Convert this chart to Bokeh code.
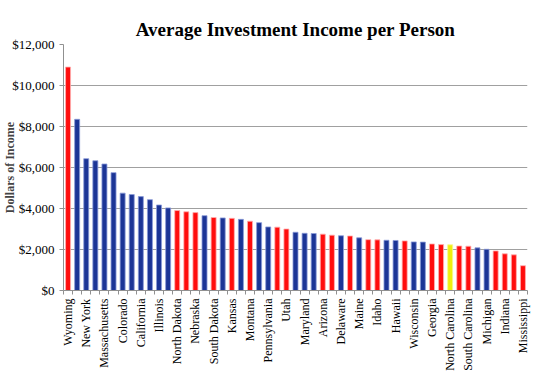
from bokeh.plotting import figure
from bokeh.models import ColumnDataSource, FixedTicker, NumeralTickFormatter, Range1d
from bokeh.embed import file_html
from bokeh.resources import INLINE

states = ["Wyoming", "Connecticut", "New York", "District of Columbia", "Massachusetts",
          "New Jersey", "Colorado", "Florida", "California", "New Hampshire", "Illinois",
          "Nevada", "North Dakota", "Texas", "Nebraska", "Washington", "South Dakota",
          "Minnesota", "Kansas", "Vermont", "Montana", "Rhode Island", "Pennsylvania",
          "Oklahoma", "Utah", "Virginia", "Maryland", "Oregon", "Arizona", "Louisiana",
          "Delaware", "Alaska", "Maine", "Missouri", "Idaho", "Iowa", "Hawaii", "Tennessee",
          "Wisconsin", "New Mexico", "Georgia", "Arkansas", "North Carolina", "Alabama",
          "South Carolina", "Ohio", "Michigan", "Kentucky", "Indiana", "West Virginia",
          "Mississippi"]
income = [10900, 8350, 6430, 6330, 6170, 5750, 4750, 4680, 4580, 4430, 4170, 4030,
          3900, 3840, 3800, 3650, 3560, 3540, 3520, 3470, 3380, 3310, 3100, 3090, 3000,
          2840, 2790, 2780, 2750, 2700, 2670, 2660, 2570, 2480, 2470, 2450, 2440, 2420,
          2370, 2360, 2270, 2240, 2230, 2170, 2160, 2080, 2010, 1930, 1790, 1740, 1210]
party = ["R", "D", "D", "D", "D", "D", "D", "D", "D", "D", "D", "D",
         "R", "R", "R", "D", "R", "D", "R", "D", "R", "D", "D", "R", "R",
         "D", "D", "D", "R", "R", "D", "R", "D", "R", "R", "D", "D", "R",
         "D", "D", "R", "R", "S", "R", "R", "D", "D", "R", "R", "R", "R"]
y_ticks = [0, 2000, 4000, 6000, 8000, 10000, 12000]

palette = {"R": "#ff0d0d", "D": "#1c3596", "S": "#eeee10"}
edge = {"R": "#ffb0b0", "D": "#8a9ad8", "S": "#f8f890"}

pos = list(range(1, len(states) + 1))
src = ColumnDataSource(dict(x=pos, y=income, state=states,
                            color=[palette[k] for k in party],
                            edge=[edge[k] for k in party]))

p = figure(width=540, height=373, output_backend="svg", toolbar_location=None,
           x_range=Range1d(0.5, len(states) + 0.5), y_range=Range1d(0, 12000),
           min_border_left=54, min_border_right=13, min_border_top=44, min_border_bottom=79)

p.title.text = "Average Investment Income per Person"
p.title.align = "center"
p.title.text_font = "Liberation Serif"
p.title.text_font_size = "19px"
p.title.text_font_style = "bold"
p.title.text_color = "#000000"
p.title.offset = 0

p.vbar(x="x", top="y", width=0.55, fill_color="color", line_color="edge",
       line_width=0.8, source=src)

p.outline_line_color = None
p.xgrid.grid_line_color = None
p.ygrid.grid_line_color = "#a0a0a0"
p.ygrid.grid_line_width = 1.2

# x axis
p.xaxis.ticker = FixedTicker(ticks=pos[::2], minor_ticks=[i + 0.5 for i in range(0, len(states) + 1)])
p.xaxis.major_label_overrides = {i: s for i, s in zip(pos, states)}
p.xaxis.major_label_orientation = 1.5708
p.xaxis.major_tick_out = 0
p.xaxis.major_tick_in = 0
p.xaxis.minor_tick_out = 4
p.xaxis.minor_tick_in = 0
p.xaxis.minor_tick_line_color = "#909090"
p.xaxis.axis_line_color = "#909090"
p.xaxis.major_label_text_font = "Liberation Serif"
p.xaxis.major_label_text_font_size = "12px"
p.xaxis.major_label_text_color = "#000000"
p.xaxis.major_label_standoff = 4
p.xaxis.axis_label_standoff = -17

# y axis
p.yaxis.ticker = FixedTicker(ticks=y_ticks)
p.yaxis.formatter = NumeralTickFormatter(format="$0,0")
p.yaxis.axis_label = "Dollars of Income"
p.yaxis.axis_label_text_font = "Liberation Serif"
p.yaxis.axis_label_text_font_style = "bold"
p.yaxis.axis_label_text_font_size = "12px"
p.yaxis.axis_label_standoff = -8
p.yaxis.major_label_text_font = "Liberation Serif"
p.yaxis.major_label_text_font_size = "13px"
p.yaxis.major_label_text_color = "#000000"
p.yaxis.major_label_standoff = 5
p.yaxis.major_tick_out = 4
p.yaxis.major_tick_in = 0
p.yaxis.minor_tick_line_color = None
p.yaxis.axis_line_color = "#909090"
p.yaxis.major_tick_line_color = "#909090"

open("out.html", "w").write(file_html(p, INLINE))
